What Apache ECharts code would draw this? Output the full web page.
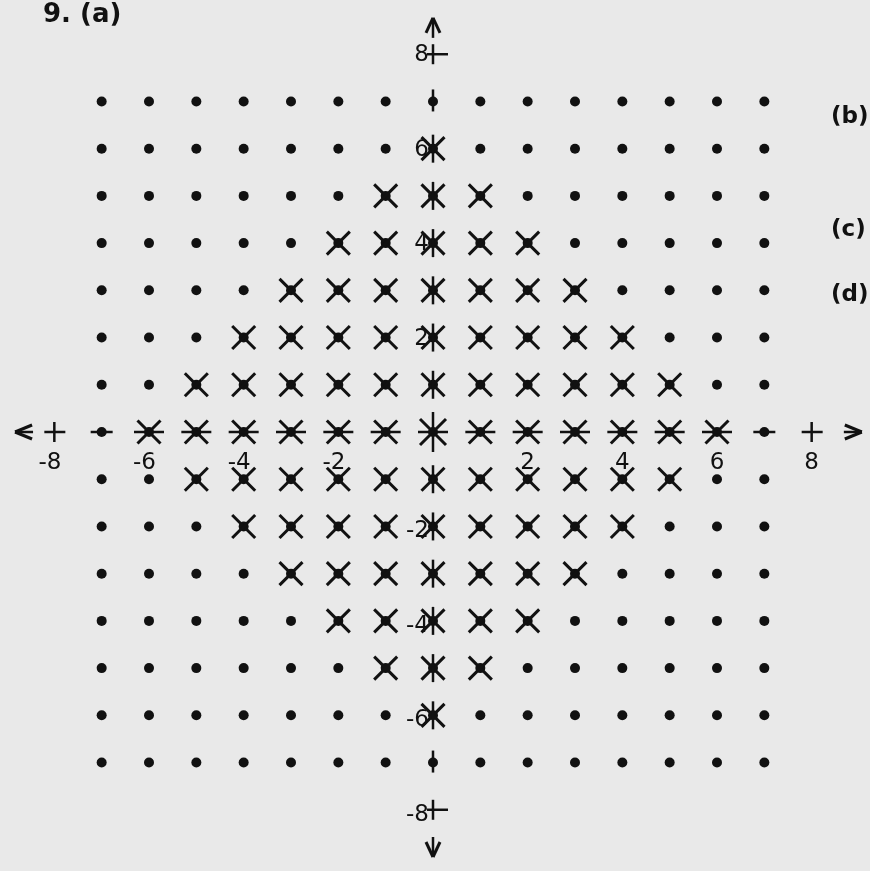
<!DOCTYPE html>
<html>
<head>
<meta charset="utf-8">
<script src="https://cdn.jsdelivr.net/npm/echarts@6/dist/echarts.min.js"></script>
<style>
html,body{margin:0;padding:0;background:#e9e9e9;}
#chart{width:870px;height:871px;}
</style>
</head>
<body>
<div id="chart"></div>
<script>
// ---- data ----
const gridValues = [-7, -6, -5, -4, -3, -2, -1, 0, 1, 2, 3, 4, 5, 6, 7];
const rowY = [6, 5, 4, 3, 2, 1, 0, -1, -2, -3, -4, -5, -6];
const rowReach = [0, 1, 2, 3, 4, 5, 6, 5, 4, 3, 2, 1, 0];
const xTickValues = [-8, -6, -4, -2, 2, 4, 6, 8];
const xTickLabels = ['-8', '-6', '-4', '-2', '2', '4', '6', '8'];
const yTickValues = [8, 6, 4, 2, -2, -4, -6, -8];
const yTickLabels = ['8', '6', '4', '2', '-2', '-4', '-6', '-8'];
const axisEndDots = [[-7, 0, 'h'], [7, 0, 'h'], [0, 7, 'v'], [0, -7, 'v']];
const plusTicks = [[-8, 0], [8, 0], [0, 8], [0, -8]];
const arrowTips = [[-8.83, 0, 'left'], [9.06, 0, 'right'], [0, 8.77, 'up'], [0, -9.0, 'down']];
const sideLabels = ['9. (a)', '(b)', '(c)', '(d)'];

// ---- build ----
const dotData = [];
gridValues.forEach(y => gridValues.forEach(x => dotData.push([x, y])));

const markData = [];
rowY.forEach((y, i) => {
  const r = rowReach[i];
  for (let x = -r; x <= r; x++) {
    let t = 0;
    if (x === 0 && y === 0) t = 3;
    else if (x === 0) t = 1;
    else if (y === 0) t = 2;
    markData.push([x, y, t]);
  }
});

const INK = '#111';
function seg(x1, y1, x2, y2, w) {
  return { type: 'line', shape: { x1, y1, x2, y2 }, style: { stroke: INK, lineWidth: w || 3 } };
}

function renderMark(params, api) {
  const p = api.coord([api.value(0), api.value(1)]);
  const t = api.value(2);
  const c = [];
  const a = t === 3 ? 13 : 11.5;
  c.push(seg(p[0] - a, p[1] - a, p[0] + a, p[1] + a));
  c.push(seg(p[0] - a, p[1] + a, p[0] + a, p[1] - a));
  if (t === 1) c.push(seg(p[0], p[1] - 14, p[0], p[1] + 14, 2.5));
  if (t === 2) c.push(seg(p[0] - 15, p[1], p[0] + 15, p[1], 2.5));
  if (t === 3) {
    c.push(seg(p[0], p[1] - 20, p[0], p[1] + 20, 2.5));
    c.push(seg(p[0] - 15, p[1], p[0] + 15, p[1], 2.5));
  }
  return { type: 'group', children: c };
}

function renderAxisEnd(params, api) {
  const p = api.coord([api.value(0), api.value(1)]);
  const d = axisEndDots[params.dataIndex][2];
  if (d === 'h') return seg(p[0] - 11, p[1], p[0] + 11, p[1], 2.5);
  return seg(p[0], p[1] - 12, p[0], p[1] + 10, 2.5);
}

function renderPlus(params, api) {
  const p = api.coord([api.value(0), api.value(1)]);
  const onY = api.value(0) === 0;
  const dx = onY ? 4 : 0;
  return { type: 'group', children: [
    seg(p[0] - 10 + dx, p[1], p[0] + 11 + dx, p[1], 2.5),
    seg(p[0], p[1] - 10, p[0], p[1] + 10, 2.5)
  ] };
}

function renderArrow(params, api) {
  const p = api.coord([api.value(0), api.value(1)]);
  const d = arrowTips[params.dataIndex][2];
  const x = p[0], y = p[1];
  let c = [];
  if (d === 'left') c = [seg(x, y, x + 17, y - 7), seg(x, y, x + 17, y + 7), seg(x, y, x + 18, y, 2.5)];
  if (d === 'right') c = [seg(x, y, x - 17, y - 7), seg(x, y, x - 17, y + 7), seg(x - 18, y, x, y, 2.5)];
  if (d === 'up') c = [seg(x, y, x - 7, y + 15), seg(x, y, x + 7, y + 15), seg(x, y, x, y + 20, 2.5)];
  if (d === 'down') c = [seg(x, y, x - 7, y - 15), seg(x, y, x + 7, y - 15), seg(x, y, x, y - 20, 2.5)];
  return { type: 'group', children: c };
}

const FONT = '"DejaVu Sans", sans-serif';
function renderXLabel(params, api) {
  const p = api.coord([api.value(0), 0]);
  const txt = xTickLabels[params.dataIndex];
  const neg = txt.charAt(0) === '-';
  return { type: 'text', x: neg ? p[0] + 7 : p[0], y: p[1] + 31,
    style: { text: txt, font: '23px ' + FONT, fill: INK, textAlign: neg ? 'right' : 'center', textVerticalAlign: 'middle' } };
}
function renderYLabel(params, api) {
  const p = api.coord([0, api.value(0)]);
  const txt = yTickLabels[params.dataIndex];
  return { type: 'text', x: p[0] - 4, y: p[1] + (txt.charAt(0) === '-' ? 5 : 1),
    style: { text: txt, font: '23px ' + FONT, fill: INK, textAlign: 'right', textVerticalAlign: 'middle' } };
}

const chart = echarts.init(document.getElementById('chart'), null, { renderer: 'canvas' });
chart.setOption({
  backgroundColor: '#e9e9e9',
  animation: false,
  grid: { left: 7, right: 11, top: 7, bottom: 14 },
  xAxis: { type: 'value', min: -9, max: 9, show: false },
  yAxis: { type: 'value', min: -9, max: 9, show: false },
  graphic: [
    { type: 'text', left: 43, top: 2, style: { text: sideLabels[0], font: 'bold 26px ' + FONT, fill: INK } },
    { type: 'text', left: 831, top: 106, style: { text: sideLabels[1], font: 'bold 23px ' + FONT, fill: INK } },
    { type: 'text', left: 831, top: 219, style: { text: sideLabels[2], font: 'bold 23px ' + FONT, fill: INK } },
    { type: 'text', left: 831, top: 284, style: { text: sideLabels[3], font: 'bold 23px ' + FONT, fill: INK } }
  ],
  series: [
    { type: 'scatter', data: dotData, symbol: 'circle', symbolSize: 10, itemStyle: { color: INK, opacity: 1 }, silent: true, z: 2 },
    { type: 'custom', data: markData, renderItem: renderMark, silent: true, z: 3 },
    { type: 'custom', data: axisEndDots.map(d => [d[0], d[1]]), renderItem: renderAxisEnd, silent: true, z: 3 },
    { type: 'custom', data: plusTicks, renderItem: renderPlus, silent: true, z: 3 },
    { type: 'custom', data: arrowTips.map(d => [d[0], d[1]]), renderItem: renderArrow, silent: true, z: 3 },
    { type: 'custom', data: xTickValues.map(v => [v]), renderItem: renderXLabel, silent: true, z: 4 },
    { type: 'custom', data: yTickValues.map(v => [v]), renderItem: renderYLabel, silent: true, z: 4 }
  ]
});
</script>
</body>
</html>
